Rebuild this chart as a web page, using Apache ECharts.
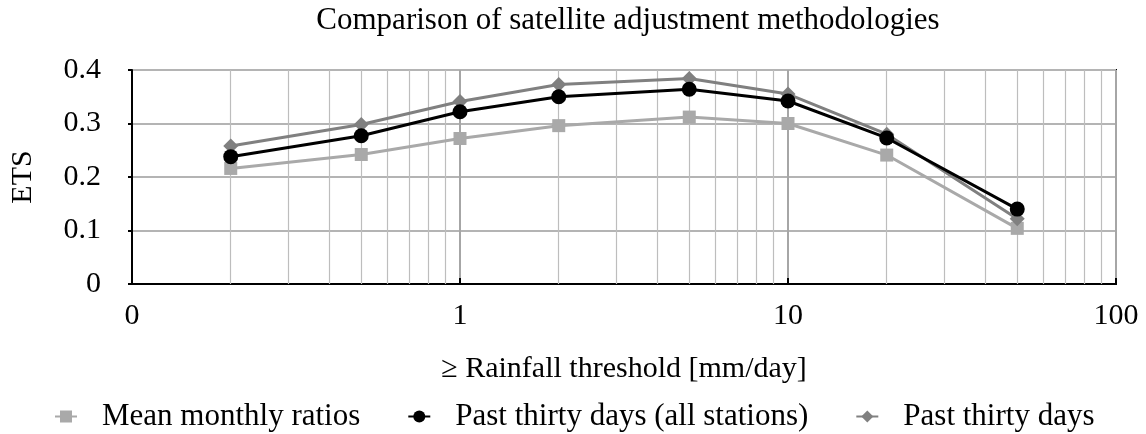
<!DOCTYPE html>
<html>
<head>
<meta charset="utf-8">
<script src="https://cdn.jsdelivr.net/npm/echarts@6/dist/echarts.min.js"></script>
<style>
  html, body { margin: 0; padding: 0; background: #fff; }
  #chart { width: 1146px; height: 434px; }
</style>
</head>
<body>
<div id="chart"></div>
<script>
// Rainfall thresholds (mm/day) and ETS scores for each adjustment method
const thresholds = [0.2, 0.5, 1, 2, 5, 10, 20, 50];
const meanMonthlyRatios = [0.216, 0.242, 0.272, 0.296, 0.312, 0.300, 0.241, 0.104];
const pastThirtyAll = [0.238, 0.277, 0.322, 0.350, 0.364, 0.342, 0.273, 0.140];
const pastThirty = [0.258, 0.298, 0.341, 0.373, 0.384, 0.355, 0.280, 0.122];
const yTicks = [0, 0.1, 0.2, 0.3, 0.4];
const xDecadeLabels = { 0.1: '0', 1: '1', 10: '10', 100: '100' };
// Minor log grid positions (2..9 in each decade)
const minorGrid = [];
[0.1, 1, 10].forEach(d => { for (let k = 2; k <= 9; k++) minorGrid.push(+(d * k).toFixed(4)); });

const FONT = '"Liberation Serif", "DejaVu Serif", serif';
const pair = (xs, ys) => xs.map((x, i) => [x, ys[i]]);

const chart = echarts.init(document.getElementById('chart'), null, { renderer: 'canvas' });
chart.setOption({
  animation: false,
  backgroundColor: '#fff',
  title: {
    text: 'Comparison of satellite adjustment methodologies',
    left: 623, top: 0, textAlign: 'center',
    textStyle: { fontFamily: FONT, fontSize: 31, fontWeight: 'normal', color: '#000' }
  },
  grid: {
    left: 129, right: 30, top: 70, bottom: 150,
    show: true, borderColor: '#000', borderWidth: 2, backgroundColor: 'transparent'
  },
  legend: {
    top: 396, left: 49, itemGap: 47, itemWidth: 22, itemHeight: 15,
    textStyle: { fontFamily: FONT, fontSize: 31, color: '#000', padding: [0, 0, 0, 20] },
    data: ['Mean monthly ratios', 'Past thirty days (all stations)', 'Past thirty days']
  },
  xAxis: {
    type: 'log', logBase: 10, min: 0.1, max: 100,
    name: '≥ Rainfall threshold [mm/day]', nameLocation: 'middle', nameGap: 70,
    nameTextStyle: { fontFamily: FONT, fontSize: 30, color: '#000' },
    axisLine: { show: true, lineStyle: { color: '#000', width: 2 } },
    axisTick: { show: true, inside: true, length: 6, lineStyle: { color: '#000', width: 2 } },
    axisLabel: {
      fontFamily: FONT, fontSize: 30, color: '#000', margin: 17,
      formatter: v => xDecadeLabels[+v.toPrecision(3)] ?? ''
    },
    splitLine: { show: true, lineStyle: { color: '#a6a6a6', width: 2 } }
  },
  yAxis: {
    type: 'value', min: 0, max: 0.4, interval: 0.1,
    name: 'ETS', nameLocation: 'middle', nameGap: 94,
    nameTextStyle: { fontFamily: FONT, fontSize: 30, color: '#000' },
    axisLine: { show: true, lineStyle: { color: '#000', width: 2 } },
    axisTick: { show: true, length: 4, lineStyle: { color: '#000', width: 2 } },
    axisLabel: {
      fontFamily: FONT, fontSize: 30, color: '#000', margin: 31,
      formatter: v => (yTicks.includes(+v.toFixed(2)) ? String(+v.toFixed(1)) : '')
    },
    splitLine: { show: true, lineStyle: { color: '#b4b4b4', width: 2 } }
  },
  series: [
    {
      name: 'Mean monthly ratios', type: 'line', z: 3,
      data: pair(thresholds, meanMonthlyRatios),
      symbol: 'rect', symbolSize: 13,
      itemStyle: { color: '#a9a9a9' }, lineStyle: { color: '#a9a9a9', width: 3 },
      markLine: {
        silent: true, symbol: 'none', z: 1,
        label: { show: false },
        lineStyle: { color: '#bdbdbd', width: 1.2, type: 'solid' },
        data: minorGrid.map(v => ({ xAxis: v }))
      }
    },
    {
      name: 'Past thirty days (all stations)', type: 'line', z: 5,
      data: pair(thresholds, pastThirtyAll),
      symbol: 'circle', symbolSize: 15,
      itemStyle: { color: '#000' }, lineStyle: { color: '#000', width: 3 }
    },
    {
      name: 'Past thirty days', type: 'line', z: 4,
      data: pair(thresholds, pastThirty),
      symbol: 'diamond', symbolSize: 15,
      itemStyle: { color: '#808080' }, lineStyle: { color: '#808080', width: 3 }
    }
  ]
});
</script>
</body>
</html>
